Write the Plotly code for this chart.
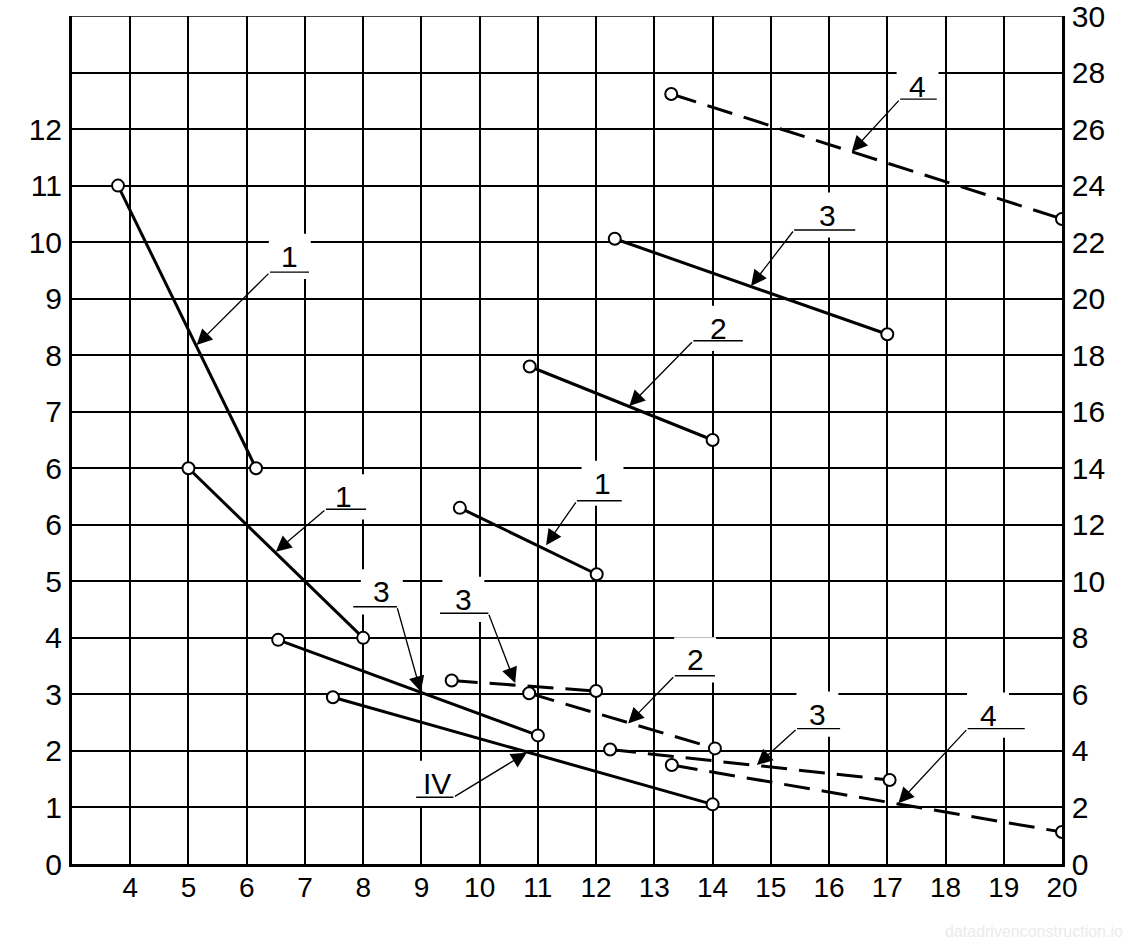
import plotly.graph_objects as go

# ---------------- data (x on bottom axis, y in right-axis units 0–30) ----------------
x_1a = [3.79, 6.16];   y_1a = [24.0, 14.0]
x_1b = [5.0, 8.0];     y_1b = [14.0, 8.0]
x_3s = [6.54, 11.0];   y_3s = [7.93, 4.55]
x_IV = [7.48, 14.0];   y_IV = [5.9, 2.11]
x_1c = [9.66, 12.01];  y_1c = [12.6, 10.25]
x_2s = [10.86, 14.0];  y_2s = [17.6, 15.0]
x_3u = [12.32, 17.0];  y_3u = [22.12, 18.74]
x_4u = [13.29, 20.0];  y_4u = [27.24, 22.82]
x_3d = [9.52, 12.0];   y_3d = [6.49, 6.12]
x_2d = [10.85, 14.04]; y_2d = [6.04, 4.09]
x_3l = [12.24, 17.04]; y_3l = [4.05, 2.97]
x_4l = [13.3, 20.0];   y_4l = [3.5, 1.13]

solid_series = [(x_1a, y_1a), (x_1b, y_1b), (x_3s, y_3s), (x_IV, y_IV),
                (x_1c, y_1c), (x_2s, y_2s), (x_3u, y_3u)]
dashed_series = [(x_4u, y_4u), (x_3d, y_3d), (x_2d, y_2d), (x_3l, y_3l), (x_4l, y_4l)]

# tick labels
x_ticks = list(range(4, 21))
left_tickvals = list(range(0, 30, 2))
left_ticktext = ["0", "1", "2", "3", "4", "5", "6", "6", "7", "8", "9", "10", "11", "12", ""]
right_tickvals = list(range(0, 31, 2))
right_ticktext = [str(v) for v in right_tickvals]

# callouts: label, text position, shelf (x0, x1, y), arrow tip, shelf end the leader leaves from
call_text   = ["1", "1", "1", "2", "3", "4", "3", "3", "2", "3", "4", "IV"]
call_tx     = [6.74, 7.66, 12.11, 14.11, 15.98, 17.52, 8.32, 9.72, 13.70, 15.80, 18.73, 9.26]
call_ty     = [21.50, 12.99, 13.47, 18.95, 22.96, 27.52, 9.63, 9.36, 7.22, 5.30, 5.27, 2.85]
shelf_x0    = [6.40, 7.36, 11.67, 13.67, 15.40, 17.22, 7.83, 9.32, 13.35, 15.45, 18.38, 8.91]
shelf_x1    = [7.07, 8.05, 12.44, 14.52, 16.45, 17.85, 8.58, 10.15, 14.04, 16.19, 19.36, 9.55]
shelf_y     = [20.94, 12.55, 12.85, 18.51, 22.43, 27.06, 9.10, 8.87, 6.66, 4.79, 4.79, 2.36]
tip_x       = [5.14, 6.50, 11.14, 12.57, 14.66, 16.39, 8.99, 10.61, 12.55, 14.76, 17.19, 10.81]
tip_y       = [18.36, 11.05, 11.28, 16.20, 20.45, 25.20, 6.09, 6.40, 4.97, 3.50, 2.15, 3.94]
attach_side = ["L", "L", "L", "L", "L", "L", "R", "R", "L", "L", "L", "R"]

FONT = "Liberation Sans, Arial, sans-serif"

fig = go.Figure()

marker = dict(symbol="circle", size=12, color="white", line=dict(color="black", width=2))
for xs, ys in solid_series:
    fig.add_trace(go.Scatter(x=xs, y=ys, mode="lines+markers",
                             line=dict(color="black", width=3), marker=marker,
                             showlegend=False, hoverinfo="skip"))
for xs, ys in dashed_series:
    fig.add_trace(go.Scatter(x=xs, y=ys, mode="lines+markers",
                             line=dict(color="black", width=3, dash="26px,12px"), marker=marker,
                             showlegend=False, hoverinfo="skip"))

# callout shelves, white label boxes, texts and arrow leaders
for i, t in enumerate(call_text):
    fig.add_trace(go.Scatter(x=[shelf_x0[i], shelf_x1[i]], y=[shelf_y[i], shelf_y[i]],
                             mode="lines", line=dict(color="black", width=1.4),
                             showlegend=False, hoverinfo="skip"))
    hw = 0.45 if len(t) > 1 else 0.36
    fig.add_shape(type="rect", xref="x", yref="y", layer="between",
                  x0=call_tx[i] - hw, x1=call_tx[i] + hw,
                  y0=call_ty[i] - 0.8, y1=call_ty[i] + 0.8,
                  fillcolor="white", line=dict(width=0))
    fig.add_annotation(x=call_tx[i], y=call_ty[i], xref="x", yref="y", text=t,
                       showarrow=False, font=dict(family=FONT, size=30, color="black"))
    ax = shelf_x0[i] if attach_side[i] == "L" else shelf_x1[i]
    fig.add_annotation(x=tip_x[i], y=tip_y[i], xref="x", yref="y",
                       ax=ax, ay=shelf_y[i], axref="x", ayref="y", text="",
                       showarrow=True, arrowhead=2, arrowsize=2.4, arrowwidth=1.3,
                       arrowcolor="black", standoff=0)

# top border
fig.add_shape(type="line", xref="paper", yref="y", x0=0, x1=1, y0=30, y1=30,
              line=dict(color="black", width=1.6), layer="above")

# watermark
fig.add_annotation(xref="paper", yref="paper", x=1.064, y=-0.08, xanchor="right", yanchor="middle",
                   text="datadrivenconstruction.io", showarrow=False,
                   font=dict(family=FONT, size=16, color="#ebebeb"))

fig.add_trace(go.Scatter(x=[20], y=[0], yaxis="y2", mode="markers",
                         marker=dict(opacity=0), showlegend=False, hoverinfo="skip"))

fig.update_layout(
    width=1136, height=944,
    margin=dict(l=72, r=74, t=16, b=80, autoexpand=False),
    paper_bgcolor="white", plot_bgcolor="white",
    font=dict(family=FONT, size=28, color="black"),
    xaxis=dict(range=[3, 20], tickvals=x_ticks, ticktext=[str(v) for v in x_ticks],
               showgrid=True, gridcolor="black", gridwidth=1.5,
               showline=True, linecolor="black", linewidth=3, ticks="",
               zeroline=False, tickfont=dict(size=28), ticklabelstandoff=-4,
               ticklabeloverflow="allow", automargin=False),
    yaxis=dict(range=[0, 30], tickvals=left_tickvals, ticktext=left_ticktext,
               showgrid=True, gridcolor="black", gridwidth=1.5,
               showline=True, linecolor="black", linewidth=3, ticks="",
               zeroline=False, tickfont=dict(size=30), ticklabelstandoff=1,
               ticklabeloverflow="allow", automargin=False),
    yaxis2=dict(range=[0, 30], tickvals=right_tickvals, ticktext=right_ticktext,
                overlaying="y", side="right", showgrid=False,
                showline=True, linecolor="black", linewidth=2.5, ticks="",
                zeroline=False, tickfont=dict(size=30), ticklabelstandoff=1,
                ticklabeloverflow="allow", automargin=False),
)

fig.write_html("out.html", config={"displayModeBar": False},
               post_script="document.body.style.margin='0';")
